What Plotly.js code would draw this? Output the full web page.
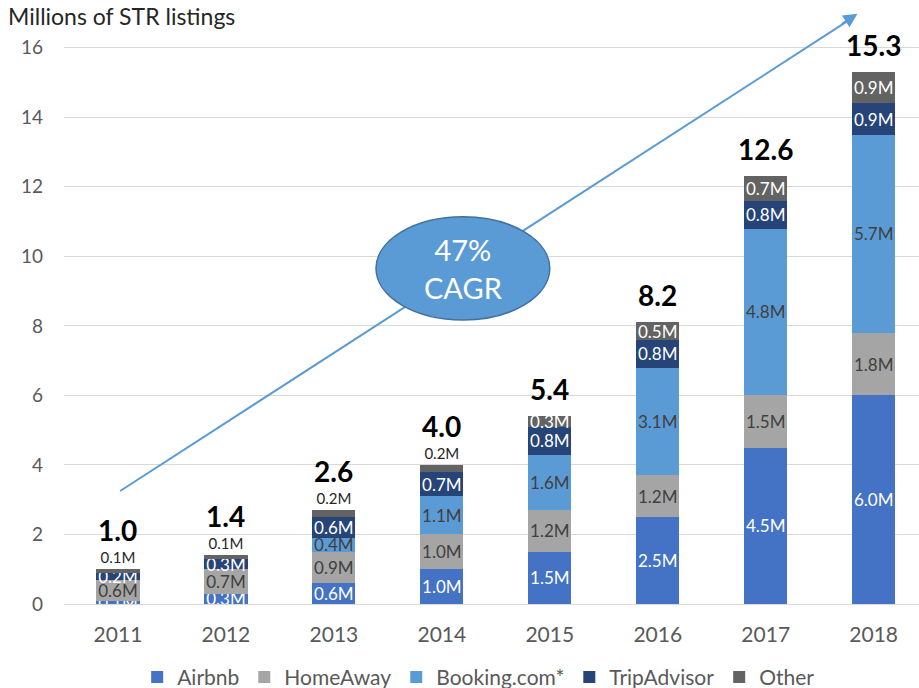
<!DOCTYPE html>
<html>
<head>
<meta charset="utf-8">
<script src="https://cdn.plot.ly/plotly-3.0.1.min.js"></script>
<style>
  html, body { margin: 0; padding: 0; background: white; }
  #chart { width: 919px; height: 688px; }
</style>
</head>
<body>
<div id="chart"></div>
<script>
// STR listings by platform, millions
const years = [2011, 2012, 2013, 2014, 2015, 2016, 2017, 2018];
const airbnb = [0.1, 0.3, 0.6, 1.0, 1.5, 2.5, 4.5, 6.0];
const homeAway = [0.6, 0.7, 0.9, 1.0, 1.2, 1.2, 1.5, 1.8];
const booking = [0, 0, 0.4, 1.1, 1.6, 3.1, 4.8, 5.7];
const tripAdvisor = [0.2, 0.3, 0.6, 0.7, 0.8, 0.8, 0.8, 0.9];
const other = [0.1, 0.1, 0.2, 0.2, 0.3, 0.5, 0.7, 0.9];
const totals = ['1.0', '1.4', '2.6', '4.0', '5.4', '8.2', '12.6', '15.3'];

const COLORS = {
  airbnb: '#4472C4',
  homeAway: '#A5A5A5',
  booking: '#5B9BD5',
  tripAdvisor: '#264478',
  other: '#636363',
};

const FONT = 'Lato, "Open Sans", sans-serif';

const label = v => (v > 0 ? v.toFixed(1) + 'M' : '');

function barTrace(name, values, color, textColor) {
  return {
    type: 'bar',
    name: name,
    x: years,
    y: values,
    width: 0.4,
    marker: { color: color, line: { width: 0 } },
    text: values.map(label),
    textposition: 'inside',
    insidetextanchor: 'middle',
    constraintext: 'none',
    textangle: 0,
    textfont: { family: FONT, size: 17, color: textColor },
    hoverinfo: 'skip',
  };
}

// the small "Other" segments carry their label above the bar
const otherTrace = barTrace('Other', other, COLORS.other, 'white');
otherTrace.textposition = years.map((y, i) => (i < 4 ? 'outside' : 'inside'));
otherTrace.outsidetextfont = { family: FONT, size: 15, color: '#262626' };
otherTrace.insidetextfont = { family: FONT, size: 17, color: 'white' };

const data = [
  barTrace('Airbnb', airbnb, COLORS.airbnb, 'white'),
  barTrace('HomeAway', homeAway, COLORS.homeAway, '#404040'),
  barTrace('Booking.com*', booking, COLORS.booking, '#404040'),
  barTrace('TripAdvisor', tripAdvisor, COLORS.tripAdvisor, 'white'),
  otherTrace,
];

const stackTops = years.map((y, i) => airbnb[i] + homeAway[i] + booking[i] + tripAdvisor[i] + other[i]);

const totalNotes = years.map((y, i) => ({
  x: y,
  y: stackTops[i],
  xref: 'x',
  yref: 'y',
  text: '<b>' + totals[i] + '</b>',
  showarrow: false,
  yanchor: 'bottom',
  yshift: i < 4 ? 20 : 8,
  font: { family: FONT, size: 28, color: '#000000' },
}));

const layout = {
  width: 919,
  height: 688,
  font: { family: FONT, color: '#595959' },
  paper_bgcolor: 'white',
  plot_bgcolor: 'white',
  margin: { t: 13, r: 0, b: 84, l: 64, autoexpand: false },
  barmode: 'stack',
  showlegend: true,
  legend: {
    orientation: 'h',
    x: 0.485,
    xanchor: 'center',
    y: -0.124,
    yanchor: 'middle',
    traceorder: 'normal',
    font: { family: FONT, size: 21, color: '#595959' },
    itemwidth: 30,
  },
  title: {
    text: 'Millions of STR listings',
    x: 8 / 919,
    xref: 'container',
    xanchor: 'left',
    y: 1 - 17 / 688,
    yref: 'container',
    yanchor: 'middle',
    font: { family: FONT, size: 23, color: '#262626' },
  },
  xaxis: {
    range: [2010.5, 2018.42],
    tickvals: years,
    ticktext: years.map(String),
    showgrid: false,
    zeroline: false,
    showline: false,
    ticks: '',
    ticklabelstandoff: 16,
    tickfont: { family: FONT, size: 21, color: '#595959' },
    fixedrange: true,
  },
  yaxis: {
    range: [0, 17],
    tickvals: [0, 2, 4, 6, 8, 10, 12, 14, 16],
    showgrid: true,
    gridcolor: '#D9D9D9',
    gridwidth: 1,
    zeroline: true,
    zerolinecolor: '#D9D9D9',
    zerolinewidth: 1,
    ticks: '',
    ticklabelstandoff: 20,
    tickfont: { family: FONT, size: 19, color: '#595959' },
    fixedrange: true,
  },
  shapes: [
    // growth arrow shaft
    {
      type: 'line', xref: 'x', yref: 'y',
      x0: 2011.02, y0: 3.25, x1: 2017.8, y1: 16.85,
      line: { color: '#5B9BD5', width: 2 },
    },
    // CAGR bubble
    {
      type: 'circle', xref: 'x', yref: 'y',
      x0: 2013.39, x1: 2015.0, y0: 8.17, y1: 11.14,
      fillcolor: '#5B9BD5',
      line: { color: '#41719C', width: 1.5 },
    },
  ],
  annotations: [
    ...totalNotes,
    {
      x: 2014.2, y: 9.65, xref: 'x', yref: 'y',
      text: '47%<br>CAGR',
      showarrow: false,
      font: { family: FONT, size: 29, color: 'white' },
    },
    // arrow head
    {
      x: 2017.85, y: 16.98, xref: 'x', yref: 'y',
      ax: -17, ay: 11,
      text: '',
      showarrow: true,
      arrowhead: 2,
      arrowsize: 1.4,
      arrowwidth: 2,
      arrowcolor: '#5B9BD5',
    },
  ],
};

Plotly.newPlot('chart', data, layout, { displayModeBar: false, staticPlot: true });
</script>
</body>
</html>
